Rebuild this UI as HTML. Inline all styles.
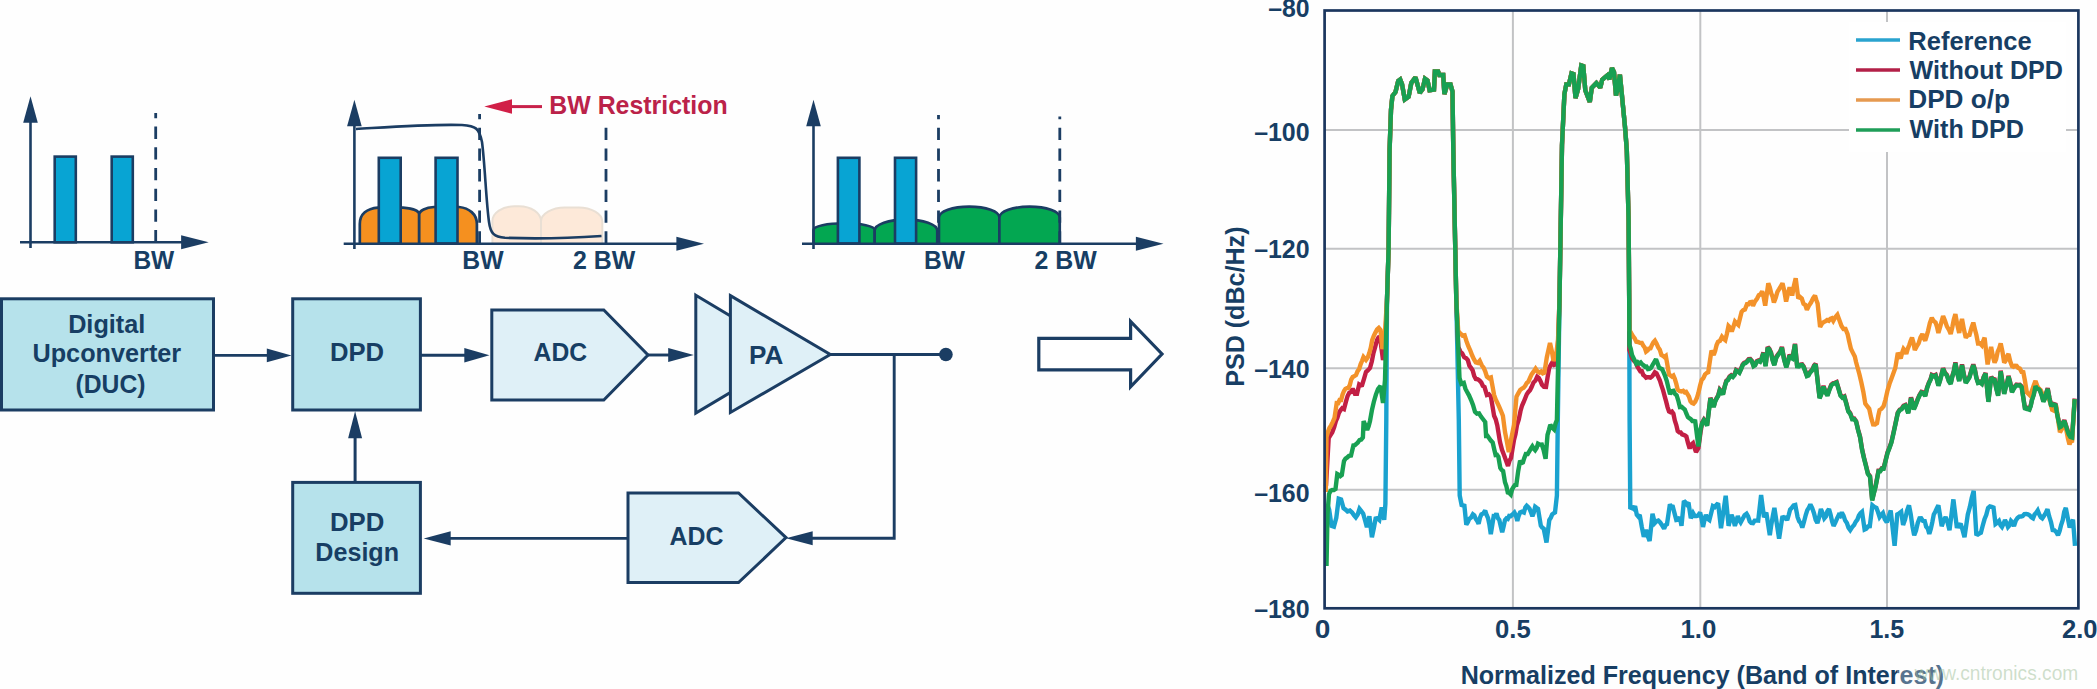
<!DOCTYPE html>
<html><head><meta charset="utf-8"><title>DPD</title>
<style>html,body{margin:0;padding:0;background:#fefefe;}svg{display:block;}</style></head>
<body><svg width="2097" height="689" viewBox="0 0 2097 689">
<rect width="2097" height="689" fill="#fefefe"/>
<rect x="54.699999999999996" y="156.60000000000002" width="21.099999999999994" height="85.7" fill="#08a4d3" stroke="#1b3d63" stroke-width="2.6"/>
<rect x="111.7" y="156.60000000000002" width="21.099999999999987" height="85.7" fill="#08a4d3" stroke="#1b3d63" stroke-width="2.6"/>
<line x1="155.7" y1="242.4" x2="155.7" y2="113" stroke="#1b3d63" stroke-width="2.8" stroke-dasharray="12.3 8.4"/>
<line x1="30.5" y1="248" x2="30.5" y2="116.2" stroke="#1b3d63" stroke-width="2.6"/>
<polygon points="23.2,122.7 37.8,122.7 30.5,96.2" fill="#1b3d63"/>
<line x1="20" y1="242.3" x2="188.7" y2="242.3" stroke="#1b3d63" stroke-width="2.6"/>
<polygon points="181.1,235.3 181.1,249.3 208.7,242.3" fill="#1b3d63"/>
<text x="133.38" y="268.9" textLength="40.84" lengthAdjust="spacingAndGlyphs" style="font-family:'Liberation Sans',sans-serif;font-weight:bold;font-size:25.3px" fill="#173e64" >BW</text>
<path d="M492.4,243 V221.3 A22,15 0 0 1 514.4,206.3 H519 A22,15 0 0 1 541,221.3 V243" fill="#fde9d9" stroke="#e9dfd4" stroke-width="2"/>
<path d="M541,243 V221.6 A24,14 0 0 1 565,207.6 H578.3 A24,14 0 0 1 602.3,221.6 V243" fill="#fde9d9" stroke="#e9dfd4" stroke-width="2"/>
<path d="M359.8,243.5 V224 C359.8,214 367,208.5 378,207.6 L403,207.6 C411,208.2 419.2,210.5 419.2,214.6 V243.5" fill="#f5901f" stroke="#1b3d63" stroke-width="2.7"/>
<path d="M419.2,243.5 V214.6 C419.2,210.5 426,207.5 434,207 L459,207 C469,208 476.9,214 476.9,224 V243.5" fill="#f5901f" stroke="#1b3d63" stroke-width="2.7"/>
<rect x="378.8" y="157.8" width="21.9" height="85.7" fill="#08a4d3" stroke="#1b3d63" stroke-width="2.6"/>
<rect x="435.6" y="157.8" width="21.9" height="85.7" fill="#08a4d3" stroke="#1b3d63" stroke-width="2.6"/>
<line x1="479.6" y1="243.5" x2="479.6" y2="114" stroke="#1b3d63" stroke-width="2.8" stroke-dasharray="12.3 8.4"/>
<line x1="606" y1="243.5" x2="606" y2="125" stroke="#1b3d63" stroke-width="2.8" stroke-dasharray="12.3 8.4"/>
<path d="M356,129 C390,127 430,124 462,125 C476,126 479,128 482,142 C485,165 486,200 489,222 C490.5,233.5 494,237 505,237.8 Q550,239.5 601.5,236" fill="none" stroke="#1b3d63" stroke-width="2.6"/>
<line x1="354.4" y1="249" x2="354.4" y2="119.8" stroke="#1b3d63" stroke-width="2.6"/>
<polygon points="347.09999999999997,126.3 361.7,126.3 354.4,99.8" fill="#1b3d63"/>
<line x1="343.7" y1="243.7" x2="684" y2="243.7" stroke="#1b3d63" stroke-width="2.6"/>
<polygon points="676.4,236.7 676.4,250.7 704,243.7" fill="#1b3d63"/>
<text x="462.27" y="268.9" textLength="41.26" lengthAdjust="spacingAndGlyphs" style="font-family:'Liberation Sans',sans-serif;font-weight:bold;font-size:25.3px" fill="#173e64" >BW</text>
<text x="572.95" y="268.9" textLength="62.17" lengthAdjust="spacingAndGlyphs" style="font-family:'Liberation Sans',sans-serif;font-weight:bold;font-size:25.3px" fill="#173e64" >2 BW</text>
<line x1="510" y1="106.6" x2="542" y2="106.6" stroke="#c8214a" stroke-width="3"/>
<polygon points="512,99.2 512,113.8 484.3,106.6" fill="#d11f47"/>
<text x="549.26" y="113.8" textLength="178.39" lengthAdjust="spacingAndGlyphs" style="font-family:'Liberation Sans',sans-serif;font-weight:bold;font-size:24.9px" fill="#bb2249" >BW Restriction</text>
<path d="M813.5,243.5 L813.5,230 A30.600000000000023,6.699999999999989 0 0 1 874.7,230 L874.7,243.5" fill="#03a751" stroke="#1b3d63" stroke-width="2.6"/>
<path d="M874.7,243.5 L874.7,230.6 A31.25,11.0 0 0 1 937.2,230.6 L937.2,243.5" fill="#03a751" stroke="#1b3d63" stroke-width="2.6"/>
<path d="M939,243.5 L939,217.5 A30.19999999999999,10.900000000000006 0 0 1 999.4,217.5 L999.4,243.5" fill="#03a751" stroke="#1b3d63" stroke-width="2.6"/>
<path d="M999.4,243.5 L999.4,217.5 A30.19999999999999,10.900000000000006 0 0 1 1059.8,217.5 L1059.8,243.5" fill="#03a751" stroke="#1b3d63" stroke-width="2.6"/>
<rect x="837.9" y="157.8" width="21.50000000000002" height="85.7" fill="#08a4d3" stroke="#1b3d63" stroke-width="2.6"/>
<rect x="895.0" y="157.8" width="21.09999999999993" height="85.7" fill="#08a4d3" stroke="#1b3d63" stroke-width="2.6"/>
<line x1="938.5" y1="243.5" x2="938.5" y2="115" stroke="#1b3d63" stroke-width="2.8" stroke-dasharray="12.3 8.4"/>
<line x1="1059.8" y1="243.5" x2="1059.8" y2="116.6" stroke="#1b3d63" stroke-width="2.8" stroke-dasharray="12.3 8.4"/>
<line x1="813.5" y1="249" x2="813.5" y2="119.8" stroke="#1b3d63" stroke-width="2.6"/>
<polygon points="806.2,126.3 820.8,126.3 813.5,99.8" fill="#1b3d63"/>
<line x1="802" y1="243.7" x2="1143.5" y2="243.7" stroke="#1b3d63" stroke-width="2.6"/>
<polygon points="1135.9,236.7 1135.9,250.7 1163.5,243.7" fill="#1b3d63"/>
<text x="924.08" y="268.9" textLength="40.95" lengthAdjust="spacingAndGlyphs" style="font-family:'Liberation Sans',sans-serif;font-weight:bold;font-size:25.3px" fill="#173e64" >BW</text>
<text x="1034.45" y="268.9" textLength="62.27" lengthAdjust="spacingAndGlyphs" style="font-family:'Liberation Sans',sans-serif;font-weight:bold;font-size:25.3px" fill="#173e64" >2 BW</text>
<rect x="1.5" y="298.8" width="212" height="111.19999999999999" fill="#b6e2eb" stroke="#1b3d63" stroke-width="3"/>
<text x="68.13" y="332.6" textLength="77.23" lengthAdjust="spacingAndGlyphs" style="font-family:'Liberation Sans',sans-serif;font-weight:bold;font-size:25.3px" fill="#173e64" >Digital</text>
<text x="32.49" y="362.2" textLength="148.66" lengthAdjust="spacingAndGlyphs" style="font-family:'Liberation Sans',sans-serif;font-weight:bold;font-size:25.3px" fill="#173e64" >Upconverter</text>
<text x="75.49" y="392.5" textLength="70.01" lengthAdjust="spacingAndGlyphs" style="font-family:'Liberation Sans',sans-serif;font-weight:bold;font-size:25.3px" fill="#173e64" >(DUC)</text>
<rect x="292.7" y="298.8" width="127.69999999999999" height="111.19999999999999" fill="#b6e2eb" stroke="#1b3d63" stroke-width="3"/>
<text x="330.01" y="360.7" textLength="54.15" lengthAdjust="spacingAndGlyphs" style="font-family:'Liberation Sans',sans-serif;font-weight:bold;font-size:25.3px" fill="#173e64" >DPD</text>
<rect x="292.7" y="482.4" width="127.69999999999999" height="110.89999999999998" fill="#b6e2eb" stroke="#1b3d63" stroke-width="3"/>
<text x="330.00" y="530.5" textLength="54.36" lengthAdjust="spacingAndGlyphs" style="font-family:'Liberation Sans',sans-serif;font-weight:bold;font-size:25.3px" fill="#173e64" >DPD</text>
<text x="315.34" y="560.7" textLength="83.71" lengthAdjust="spacingAndGlyphs" style="font-family:'Liberation Sans',sans-serif;font-weight:bold;font-size:25.3px" fill="#173e64" >Design</text>
<line x1="214" y1="355.4" x2="271.5" y2="355.4" stroke="#1b3d63" stroke-width="2.9"/>
<polygon points="266.8,348.5 266.8,362.29999999999995 291.5,355.4" fill="#1b3d63"/>
<line x1="421" y1="355.3" x2="469.5" y2="355.3" stroke="#1b3d63" stroke-width="2.9"/>
<polygon points="464.3,348.1 464.3,362.5 489.5,355.3" fill="#1b3d63"/>
<line x1="355.1" y1="481" x2="355.1" y2="431.3" stroke="#1b3d63" stroke-width="3"/>
<polygon points="348.1,438.3 362.1,438.3 355.1,411.3" fill="#1b3d63"/>
<polygon points="491.8,310 603.8,310 648,355 603.8,400 491.8,400" fill="#dff0f7" stroke="#1b3d63" stroke-width="3" stroke-linejoin="miter"/>
<text x="533.61" y="360.5" textLength="53.47" lengthAdjust="spacingAndGlyphs" style="font-family:'Liberation Sans',sans-serif;font-weight:bold;font-size:25.3px" fill="#173e64" >ADC</text>
<line x1="648" y1="355" x2="673.8" y2="355" stroke="#1b3d63" stroke-width="2.9"/>
<polygon points="668.1999999999999,348.1 668.1999999999999,361.9 693.8,355" fill="#1b3d63"/>
<polygon points="695.8,295.2 794.6,354.3 695.8,413" fill="#dff0f7" stroke="#1b3d63" stroke-width="3"/>
<polygon points="730.4,295.6 830.3,354.5 730.4,412.5" fill="#dff0f7" stroke="#1b3d63" stroke-width="3"/>
<text x="748.98" y="363.8" textLength="34.30" lengthAdjust="spacingAndGlyphs" style="font-family:'Liberation Sans',sans-serif;font-weight:bold;font-size:25.3px" fill="#173e64" >PA</text>
<polyline points="830,354.5 894.2,354.5 894.2,538.2 806,538.2" fill="none" stroke="#1b3d63" stroke-width="2.9"/>
<polygon points="812.7,531.2 812.7,545.2 786,538.2" fill="#1b3d63"/>
<circle cx="945.9" cy="354.5" r="6.8" fill="#1b3d63"/>
<line x1="894" y1="354.5" x2="944" y2="354.5" stroke="#1b3d63" stroke-width="2.9"/>
<polygon points="628,493 738.5,493 786,537.6 738.5,582.6 628,582.6" fill="#dff0f7" stroke="#1b3d63" stroke-width="3"/>
<text x="669.50" y="544.7" textLength="53.88" lengthAdjust="spacingAndGlyphs" style="font-family:'Liberation Sans',sans-serif;font-weight:bold;font-size:25.3px" fill="#173e64" >ADC</text>
<line x1="628" y1="538.4" x2="443.7" y2="538.4" stroke="#1b3d63" stroke-width="2.9"/>
<polygon points="450.7,531.3 450.7,545.5 423.7,538.4" fill="#1b3d63"/>
<path d="M1038.8,338.4 H1130.6 V321.4 L1162,354 L1130.6,386.8 V369.8 H1038.8 Z" fill="#fff" stroke="#1b3d63" stroke-width="3.2" stroke-linejoin="miter"/>
<line x1="1324.6" y1="130.0" x2="2078.4" y2="130.0" stroke="#c2c3c5" stroke-width="2"/>
<line x1="1324.6" y1="248.8" x2="2078.4" y2="248.8" stroke="#c2c3c5" stroke-width="2"/>
<line x1="1324.6" y1="368.2" x2="2078.4" y2="368.2" stroke="#c2c3c5" stroke-width="2"/>
<line x1="1324.6" y1="489.7" x2="2078.4" y2="489.7" stroke="#c2c3c5" stroke-width="2"/>
<line x1="1512.9" y1="10.5" x2="1512.9" y2="608.3" stroke="#c2c3c5" stroke-width="2"/>
<line x1="1700.3" y1="10.5" x2="1700.3" y2="608.3" stroke="#c2c3c5" stroke-width="2"/>
<line x1="1887.0" y1="10.5" x2="1887.0" y2="608.3" stroke="#c2c3c5" stroke-width="2"/>
<rect x="1849" y="22" width="217" height="130" fill="#fff"/>
<polyline points="1327.5,505.0 1329.2,509.8 1331.5,525.8 1333.9,526.6 1336.3,517.8 1338.7,498.7 1341.1,499.5 1343.5,508.2 1345.5,509.6 1347.5,511.4 1349.9,510.6 1352.1,512.5 1353.9,515.1 1355.8,517.4 1357.7,514.5 1359.5,508.8 1361.3,511.1 1363.2,513.7 1365.1,520.5 1366.9,527.3 1369.4,516.2 1371.9,537.2 1373.8,528.2 1375.6,518.6 1377.4,518.2 1379.3,519.9 1381.7,507.5 1384.2,519.9 1385.4,503.8 1386.3,420.0 1387.0,300.0 1388.6,249.0 1389.6,150.0 1391.0,110.0 1392.4,96.0 1395.5,92.0 1398.2,81.0 1400.2,79.5 1402.0,84.0 1404.8,99.5 1408.6,96.8 1411.3,83.0 1415.5,77.3 1419.8,92.9 1422.5,89.4 1425.0,78.7 1427.5,80.5 1429.6,90.3 1434.0,89.6 1434.9,71.5 1438.1,71.5 1439.4,75.0 1443.2,75.0 1444.4,94.0 1447.3,84.4 1450.5,84.4 1452.5,91.6 1453.3,150.0 1456.3,300.0 1458.8,420.0 1459.7,495.5 1461.6,505.0 1463.0,505.4 1464.4,505.8 1466.3,524.7 1467.8,522.3 1469.2,519.0 1471.1,517.6 1472.9,514.3 1474.3,515.4 1475.8,519.0 1477.2,520.8 1478.6,523.8 1480.0,517.7 1481.4,514.3 1483.3,513.4 1485.2,510.6 1486.6,514.9 1488.0,518.0 1489.4,524.6 1490.8,534.2 1493.7,516.2 1495.1,516.3 1496.5,513.4 1497.9,518.2 1499.3,520.0 1500.8,526.6 1502.2,532.3 1503.6,526.5 1505.0,520.0 1506.4,518.4 1507.8,519.0 1509.2,516.0 1510.7,516.2 1512.6,514.4 1514.4,512.5 1515.8,515.3 1517.3,521.0 1518.7,515.8 1520.1,512.5 1522.0,511.7 1523.9,512.5 1525.3,507.6 1526.7,505.8 1528.1,507.1 1529.5,508.7 1531.0,512.3 1532.4,516.2 1533.8,512.6 1535.2,506.8 1536.6,507.8 1538.0,508.7 1540.8,525.7 1542.2,527.5 1543.7,528.5 1545.1,535.5 1546.5,542.6 1549.3,520.0 1550.8,517.7 1552.2,514.3 1553.6,513.3 1555.0,512.5 1556.9,495.5 1557.8,420.0 1559.5,300.0 1562.0,145.0 1564.4,94.2 1566.3,84.4 1568.9,84.4 1571.5,73.3 1573.5,74.0 1575.5,98.1 1578.1,89.0 1581.3,65.4 1583.3,66.1 1585.3,90.3 1589.8,102.0 1591.8,87.7 1596.4,83.1 1600.3,87.7 1602.2,79.8 1607.5,75.2 1609.4,79.2 1612.0,68.1 1614.0,72.0 1616.0,95.5 1617.9,87.7 1619.9,74.6 1621.2,87.7 1623.1,107.2 1625.1,128.0 1626.8,150.0 1628.6,220.0 1629.2,300.0 1629.6,420.0 1630.3,509.0 1631.9,507.3 1633.5,508.7 1635.1,506.1 1636.8,514.8 1638.2,516.4 1639.7,514.8 1641.8,526.9 1643.8,536.9 1646.1,529.9 1647.8,536.1 1649.6,541.0 1652.5,513.7 1654.8,523.0 1656.5,521.2 1658.3,520.6 1660.2,522.5 1662.2,525.4 1664.1,528.8 1665.5,525.1 1667.0,524.1 1669.9,504.4 1671.3,506.4 1672.8,506.7 1674.5,513.1 1676.3,520.1 1678.0,519.8 1679.8,517.2 1681.5,525.9 1683.9,500.9 1685.3,502.3 1686.8,504.4 1688.5,502.6 1690.8,518.3 1693.1,513.1 1694.8,516.0 1696.6,516.0 1698.3,515.4 1700.1,512.5 1701.5,518.2 1703.0,527.0 1704.5,520.0 1705.9,514.8 1707.7,518.8 1709.4,520.1 1711.2,513.0 1712.9,506.1 1714.7,507.1 1716.4,505.0 1718.1,503.2 1721.0,528.2 1725.7,495.7 1728.6,525.9 1730.0,520.0 1731.5,514.8 1733.2,519.0 1734.9,525.9 1736.3,521.4 1737.8,516.0 1739.2,520.1 1740.7,522.4 1742.7,518.8 1744.6,515.3 1746.6,513.7 1748.1,516.3 1749.7,521.4 1751.2,523.0 1753.0,523.2 1754.7,520.6 1756.5,520.4 1758.2,520.6 1761.1,495.1 1764.0,517.2 1766.3,512.5 1769.8,535.1 1771.3,524.8 1772.9,515.6 1774.4,507.9 1779.1,538.6 1782.5,516.0 1784.1,518.3 1785.6,517.7 1787.2,520.1 1788.7,515.0 1790.1,509.6 1791.8,507.9 1793.6,505.5 1795.3,505.0 1797.6,517.2 1799.2,521.4 1800.7,523.0 1802.3,527.6 1804.0,521.7 1805.8,514.8 1807.3,510.1 1808.9,507.6 1810.4,504.4 1812.2,508.1 1813.9,513.0 1815.7,519.9 1817.4,523.0 1819.2,517.0 1820.9,509.0 1822.6,513.0 1824.3,518.3 1825.9,516.4 1827.4,511.2 1829.0,509.0 1830.5,514.3 1832.1,521.4 1833.6,525.9 1835.3,522.6 1837.1,518.3 1838.7,515.1 1840.2,516.0 1841.8,512.5 1843.5,515.6 1845.2,520.6 1846.9,523.0 1848.5,527.8 1850.2,530.1 1852.2,527.0 1854.1,524.9 1855.8,521.6 1857.4,519.6 1858.9,515.6 1860.5,513.1 1862.0,511.8 1864.6,529.4 1866.3,528.6 1868.1,526.4 1869.8,526.2 1872.4,505.3 1874.4,506.9 1876.4,507.9 1878.0,512.0 1879.6,517.0 1881.2,514.9 1882.9,513.1 1884.8,519.2 1886.8,522.3 1888.8,516.3 1890.7,510.5 1894.6,545.8 1897.3,514.4 1899.2,513.3 1901.2,511.8 1903.1,524.9 1905.1,519.5 1907.0,510.8 1909.0,505.3 1910.7,514.2 1912.5,526.6 1914.2,535.3 1916.0,530.7 1917.7,523.2 1919.5,518.3 1921.2,518.2 1923.0,520.9 1924.7,521.0 1926.2,526.7 1927.8,528.7 1929.3,534.0 1930.8,528.9 1932.3,522.2 1933.8,514.4 1935.3,511.7 1936.9,508.1 1938.4,505.3 1941.7,526.2 1943.7,520.3 1945.6,517.0 1947.5,522.1 1949.5,530.1 1953.4,499.4 1956.7,526.2 1958.7,526.4 1960.6,523.6 1962.5,529.6 1964.5,537.3 1967.8,514.4 1969.8,507.2 1971.7,498.0 1973.7,490.9 1976.3,534.0 1977.8,534.6 1979.4,533.4 1980.9,532.7 1982.7,525.8 1984.5,519.3 1986.3,514.8 1988.1,507.9 1989.9,506.4 1991.7,506.8 1993.5,507.5 1995.5,524.0 1997.2,522.7 1999.0,521.0 2000.5,525.1 2002.0,527.0 2003.5,523.9 2005.0,520.0 2006.5,522.8 2008.0,527.0 2009.5,525.3 2011.0,521.0 2012.5,522.6 2014.0,526.0 2015.8,520.5 2017.5,518.0 2019.2,516.6 2021.0,516.5 2022.7,516.0 2024.4,514.1 2026.2,513.9 2027.9,514.4 2029.6,515.3 2031.4,517.2 2033.1,518.3 2034.6,514.5 2036.2,512.7 2037.7,510.5 2039.2,514.4 2040.8,517.2 2042.3,518.3 2044.0,515.8 2045.8,512.8 2047.5,509.2 2049.2,516.4 2051.0,522.0 2052.7,530.1 2054.5,530.3 2056.2,532.0 2058.0,535.3 2059.6,531.1 2061.1,525.0 2062.7,520.3 2064.2,511.8 2065.8,507.9 2067.8,518.1 2069.7,527.5 2071.3,523.5 2073.0,519.6 2075.0,545.8" fill="none" stroke="#1aa2cf" stroke-width="4.4" stroke-linejoin="miter" stroke-miterlimit="2.2" stroke-linecap="butt"/>
<polyline points="1326.0,486.0 1328.7,438.0 1330.5,435.1 1332.3,432.3 1334.2,427.0 1336.0,420.7 1337.4,417.8 1338.9,412.8 1340.3,410.5 1342.2,408.2 1344.0,409.1 1345.8,402.1 1347.6,396.0 1349.3,392.8 1351.0,392.1 1352.7,388.7 1354.9,393.8 1357.0,393.8 1359.2,384.4 1360.7,385.3 1362.1,385.0 1364.0,378.8 1366.0,372.0 1368.0,370.2 1370.0,368.0 1371.8,361.5 1373.5,352.9 1375.2,346.8 1377.0,340.0 1378.5,337.4 1380.0,337.0 1383.0,360.0 1385.0,350.0 1387.0,300.0 1388.6,249.0 1389.6,150.0 1391.0,110.0 1392.4,96.0 1395.5,92.0 1398.2,81.0 1400.2,79.5 1402.0,84.0 1404.8,99.5 1408.6,96.8 1411.3,83.0 1415.5,77.3 1419.8,92.9 1422.5,89.4 1425.0,78.7 1427.5,80.5 1429.6,90.3 1434.0,89.6 1434.9,71.5 1438.1,71.5 1439.4,75.0 1443.2,75.0 1444.4,94.0 1447.3,84.4 1450.5,84.4 1452.5,91.6 1453.3,150.0 1456.3,300.0 1458.3,347.0 1460.5,352.0 1462.2,353.5 1464.2,357.2 1466.2,358.3 1467.8,360.1 1469.4,365.7 1471.0,367.9 1472.6,370.2 1474.2,375.9 1475.8,379.0 1477.8,379.3 1479.7,380.7 1481.3,382.5 1482.9,386.0 1484.5,387.0 1486.9,395.0 1488.9,394.3 1490.9,396.6 1494.1,415.8 1495.7,419.2 1497.3,425.4 1500.0,442.0 1502.0,449.8 1504.0,455.0 1506.0,460.5 1508.0,466.0 1509.5,460.7 1511.0,458.0 1514.0,440.0 1515.5,434.1 1517.0,425.0 1518.8,419.4 1520.5,411.0 1522.1,405.5 1523.6,402.2 1525.2,398.2 1526.8,394.2 1528.4,392.0 1530.0,390.2 1531.6,387.0 1533.5,382.5 1535.3,380.8 1537.2,376.7 1538.8,377.9 1540.4,381.0 1542.0,384.7 1544.0,386.9 1546.0,387.0 1547.6,377.1 1549.2,367.9 1550.8,364.8 1552.4,362.3 1553.7,364.5 1555.0,366.0 1558.0,345.0 1559.5,300.0 1562.0,145.0 1564.4,94.2 1566.3,84.4 1568.9,84.4 1571.5,73.3 1573.5,74.0 1575.5,98.1 1578.1,89.0 1581.3,65.4 1583.3,66.1 1585.3,90.3 1589.8,102.0 1591.8,87.7 1596.4,83.1 1600.3,87.7 1602.2,79.8 1607.5,75.2 1609.4,79.2 1612.0,68.1 1614.0,72.0 1616.0,95.5 1617.9,87.7 1619.9,74.6 1621.2,87.7 1623.1,107.2 1625.1,128.0 1626.8,150.0 1628.6,220.0 1629.2,300.0 1629.4,350.0 1630.7,353.9 1632.0,358.0 1633.8,360.6 1635.6,362.4 1637.4,366.8 1638.9,369.0 1640.3,371.2 1641.8,371.2 1643.2,374.9 1644.7,376.1 1646.1,377.7 1647.6,377.2 1649.0,377.3 1650.5,377.7 1652.0,376.5 1653.4,374.7 1654.9,372.3 1656.5,373.2 1658.1,376.6 1659.8,380.2 1661.4,385.4 1663.1,390.4 1664.7,396.3 1666.1,401.4 1667.6,407.4 1669.0,411.5 1670.5,412.2 1671.9,411.5 1673.4,413.7 1674.8,420.5 1676.3,425.1 1677.7,431.1 1679.2,432.3 1680.6,432.4 1682.1,434.4 1683.5,434.9 1685.0,435.5 1686.4,436.6 1688.1,443.4 1689.7,448.5 1691.3,444.5 1693.0,443.1 1694.5,447.7 1696.0,452.0 1698.4,448.0 1700.6,432.0 1702.2,422.4 1703.9,419.5 1705.5,421.7 1707.1,425.0 1710.4,397.7 1712.1,402.0 1713.7,406.4 1715.1,401.1 1716.5,398.2 1718.2,395.3 1719.8,389.5 1721.4,391.3 1723.0,393.9 1724.7,386.2 1726.3,380.8 1727.9,379.6 1729.6,376.4 1731.2,375.2 1732.9,376.4 1734.5,374.5 1736.1,369.9 1737.8,370.9 1739.4,372.1 1741.1,368.5 1742.7,364.5 1744.1,362.9 1745.6,362.3 1747.0,361.2 1748.7,359.1 1750.3,359.0 1751.9,360.8 1753.6,365.6 1755.2,364.6 1756.8,361.2 1758.4,360.4 1760.1,361.2 1761.8,357.7 1763.4,352.5 1765.6,365.6 1767.7,347.0 1769.3,348.8 1771.0,352.5 1772.7,360.0 1774.3,364.5 1776.4,356.8 1778.6,353.6 1780.2,351.6 1781.9,347.0 1784.1,359.0 1786.3,366.6 1787.9,361.5 1789.5,354.7 1791.0,357.1 1792.4,357.9 1793.7,351.1 1795.0,343.8 1797.1,365.6 1798.8,365.8 1800.4,364.5 1802.1,364.3 1803.7,366.6 1805.3,370.9 1806.9,375.4 1808.5,374.8 1810.0,372.1 1812.5,369.3 1814.1,365.5 1815.7,363.7 1819.6,397.6 1821.5,393.1 1823.5,385.9 1825.5,391.7 1827.4,395.0 1829.3,389.5 1831.3,384.6 1833.1,383.3 1834.8,382.7 1836.6,382.0 1838.5,388.1 1840.5,395.0 1842.5,397.2 1844.4,396.3 1846.3,403.1 1848.3,410.7 1850.2,413.1 1852.2,418.5 1854.2,418.5 1856.1,421.1 1858.1,429.6 1860.1,436.8 1862.0,448.8 1864.0,457.7 1866.0,465.5 1867.9,473.3 1870.0,476.0 1872.2,499.8 1873.8,493.1 1875.5,486.4 1877.0,478.7 1878.5,470.7 1880.2,470.6 1881.9,468.1 1883.6,468.1 1885.5,460.6 1887.5,452.5 1889.5,447.4 1891.4,442.0 1893.3,433.5 1895.3,424.3 1897.8,412.5 1899.7,409.6 1901.6,408.7 1903.5,405.8 1905.4,405.0 1906.8,408.3 1908.2,412.5 1909.6,406.3 1911.0,397.4 1912.5,402.6 1913.9,408.7 1915.8,404.3 1917.6,399.3 1919.5,394.9 1921.4,391.8 1923.3,392.4 1925.2,395.5 1927.1,387.5 1929.0,382.3 1930.4,379.6 1931.8,374.8 1933.7,375.7 1935.6,374.8 1937.0,379.5 1938.4,385.1 1940.0,380.1 1941.5,374.4 1943.1,368.2 1945.0,372.8 1946.9,374.8 1948.8,380.5 1950.7,383.3 1952.3,376.1 1953.8,371.0 1955.4,362.5 1957.3,372.9 1959.2,380.4 1960.6,372.7 1962.0,364.4 1963.9,374.6 1965.8,382.3 1967.7,379.5 1969.5,376.7 1971.4,370.2 1973.3,364.4 1974.9,369.6 1976.4,377.5 1978.0,382.3 1979.9,381.7 1981.8,383.3 1983.7,376.7 1985.6,372.9 1988.4,401.2 1991.2,376.7 1992.9,379.0 1994.6,379.4 1996.3,388.1 1998.1,395.0 2000.7,370.7 2004.2,393.3 2005.6,387.4 2007.1,382.8 2008.5,375.9 2010.2,382.3 2012.0,391.6 2013.5,388.5 2014.9,386.3 2016.4,384.6 2018.1,384.9 2019.9,384.7 2021.6,386.3 2025.1,409.0 2026.5,407.6 2028.0,408.5 2029.4,409.0 2030.7,405.5 2032.0,399.4 2033.8,394.0 2035.5,385.5 2037.0,387.7 2038.4,388.3 2039.9,389.8 2041.7,394.7 2043.4,401.1 2044.8,398.2 2046.3,392.5 2047.7,388.1 2049.4,397.5 2051.2,405.5 2052.7,403.7 2054.1,404.0 2055.6,404.6 2057.0,412.9 2058.5,420.1 2059.9,426.4 2061.4,425.6 2062.8,422.7 2064.3,420.3 2065.7,424.4 2067.2,429.3 2068.6,433.4 2070.3,436.3 2072.1,436.9 2074.7,398.5" fill="none" stroke="#c21f44" stroke-width="4.4" stroke-linejoin="miter" stroke-miterlimit="2.2" stroke-linecap="butt"/>
<polyline points="1325.8,492.0 1326.5,437.0 1328.0,431.7 1329.4,428.0 1331.1,425.3 1332.8,421.9 1334.5,418.0 1336.7,403.0 1338.2,403.1 1339.6,400.0 1341.1,400.0 1342.5,394.6 1344.0,391.0 1345.4,388.9 1346.9,388.1 1348.3,388.0 1349.8,385.1 1351.2,379.5 1352.7,377.0 1354.3,376.1 1356.0,375.0 1357.6,371.1 1359.2,369.0 1360.6,364.3 1362.1,360.8 1363.5,357.0 1366.0,360.0 1367.7,357.6 1369.3,353.0 1370.8,347.7 1372.2,340.1 1373.7,336.0 1375.4,332.6 1377.1,329.5 1378.8,328.0 1380.5,330.0 1382.4,349.0 1384.5,340.0 1387.0,300.0 1388.6,249.0 1389.6,150.0 1391.0,110.0 1392.4,96.0 1395.5,92.0 1398.2,81.0 1400.2,79.5 1402.0,84.0 1404.8,99.5 1408.6,96.8 1411.3,83.0 1415.5,77.3 1419.8,92.9 1422.5,89.4 1425.0,78.7 1427.5,80.5 1429.6,90.3 1434.0,89.6 1434.9,71.5 1438.1,71.5 1439.4,75.0 1443.2,75.0 1444.4,94.0 1447.3,84.4 1450.5,84.4 1452.5,91.6 1453.3,150.0 1456.3,300.0 1458.2,331.0 1460.5,333.6 1462.5,335.6 1464.6,335.2 1466.5,341.2 1468.3,346.2 1470.2,350.3 1472.1,355.3 1473.9,359.1 1475.8,362.3 1477.8,362.9 1479.7,360.7 1481.7,365.2 1483.7,367.9 1485.3,371.5 1486.9,376.7 1488.9,378.2 1490.9,377.5 1492.5,386.2 1494.1,395.0 1495.7,399.5 1497.3,402.7 1498.9,406.2 1500.9,410.8 1502.9,415.8 1505.0,432.0 1506.9,441.6 1508.8,452.0 1511.0,440.0 1512.5,432.3 1514.0,425.0 1516.5,396.6 1518.3,393.3 1520.2,390.0 1522.0,388.6 1523.6,387.8 1525.2,385.8 1526.8,383.0 1528.4,381.7 1530.0,377.8 1531.6,374.3 1533.6,371.7 1535.6,368.7 1537.6,371.5 1539.6,372.7 1541.2,371.5 1542.8,373.3 1544.4,372.7 1546.8,357.5 1548.4,350.1 1550.0,343.0 1551.8,351.0 1553.5,361.0 1554.9,356.5 1556.3,354.0 1558.0,340.0 1559.5,300.0 1562.0,145.0 1564.4,94.2 1566.3,84.4 1568.9,84.4 1571.5,73.3 1573.5,74.0 1575.5,98.1 1578.1,89.0 1581.3,65.4 1583.3,66.1 1585.3,90.3 1589.8,102.0 1591.8,87.7 1596.4,83.1 1600.3,87.7 1602.2,79.8 1607.5,75.2 1609.4,79.2 1612.0,68.1 1614.0,72.0 1616.0,95.5 1617.9,87.7 1619.9,74.6 1621.2,87.7 1623.1,107.2 1625.1,128.0 1626.8,150.0 1628.6,220.0 1629.2,300.0 1629.4,330.0 1631.2,333.2 1633.1,336.3 1634.7,338.3 1636.3,341.8 1638.1,342.0 1640.0,342.9 1641.8,342.9 1643.2,345.5 1644.7,347.5 1646.1,351.6 1647.6,350.5 1649.0,348.6 1650.5,348.3 1652.0,344.9 1653.4,342.3 1654.9,340.7 1656.5,343.5 1658.1,347.2 1659.8,349.7 1661.4,354.9 1662.9,355.7 1664.3,357.0 1665.8,355.9 1667.4,364.8 1669.0,374.5 1670.5,375.6 1671.9,376.6 1673.4,375.6 1674.8,378.8 1676.3,383.9 1677.7,389.7 1679.5,391.0 1681.4,391.5 1683.2,390.8 1684.6,392.3 1686.1,391.9 1687.5,394.1 1689.0,396.7 1690.4,401.1 1691.9,402.8 1693.6,403.5 1695.2,401.7 1696.8,398.3 1698.4,393.0 1700.1,385.5 1701.7,379.9 1703.3,378.3 1705.0,374.5 1706.6,373.0 1708.2,372.3 1711.5,350.5 1713.7,354.9 1715.1,351.2 1716.6,345.0 1718.0,341.8 1720.0,340.8 1722.0,336.8 1723.7,338.8 1725.3,340.1 1726.9,333.8 1728.5,326.0 1730.2,327.8 1731.8,331.4 1733.4,326.9 1735.0,321.6 1736.7,323.5 1738.3,324.9 1739.9,318.6 1741.6,311.8 1743.2,310.2 1744.9,309.6 1747.0,304.2 1748.5,304.2 1749.9,302.2 1751.4,302.0 1753.0,305.7 1755.0,301.4 1757.1,298.5 1758.8,295.1 1760.5,294.4 1762.2,291.4 1763.7,297.3 1765.2,305.7 1768.3,283.3 1769.8,287.5 1771.3,293.5 1772.6,296.7 1773.9,302.6 1775.7,297.7 1777.4,291.9 1779.1,289.2 1780.8,286.3 1782.5,283.3 1784.3,291.0 1786.1,301.6 1787.8,294.3 1789.6,287.4 1790.9,290.9 1792.2,295.5 1794.0,285.5 1795.7,278.2 1798.3,298.5 1800.0,296.9 1801.8,298.5 1803.5,303.8 1805.2,304.8 1806.9,309.7 1809.0,305.5 1811.0,302.6 1813.0,298.3 1815.0,295.5 1816.3,299.9 1817.6,303.6 1820.1,327.0 1822.2,323.1 1824.2,321.9 1825.7,321.1 1827.2,320.0 1828.8,320.7 1830.3,318.9 1831.8,318.3 1833.3,320.9 1835.3,317.3 1837.4,314.8 1839.5,320.4 1841.5,326.0 1843.5,329.0 1845.5,329.0 1847.6,334.1 1849.2,341.5 1850.9,348.7 1852.8,352.6 1854.8,356.6 1856.1,362.3 1857.4,367.0 1859.4,374.2 1861.4,382.7 1863.3,391.7 1865.3,403.6 1867.2,406.2 1869.2,408.8 1871.2,417.9 1873.1,424.4 1875.0,424.5 1877.0,423.1 1878.3,415.8 1879.6,410.1 1881.6,408.7 1883.6,406.2 1885.5,399.5 1887.5,390.5 1889.5,383.8 1891.4,378.7 1893.3,373.6 1895.3,368.0 1897.8,352.8 1899.2,355.2 1900.7,358.5 1902.1,352.9 1903.5,349.0 1904.9,350.7 1906.3,353.8 1907.8,348.6 1909.2,345.3 1910.6,341.0 1912.0,337.7 1913.4,342.4 1914.8,350.0 1916.7,346.4 1918.6,343.4 1920.5,337.4 1922.4,334.0 1923.8,338.1 1925.2,340.6 1926.6,336.2 1928.0,331.1 1929.9,322.9 1931.8,317.9 1933.7,321.1 1935.6,322.6 1937.0,326.8 1938.4,333.0 1940.0,327.3 1941.5,321.8 1943.1,316.0 1945.0,320.7 1946.9,326.4 1948.8,329.5 1950.7,334.0 1952.3,327.2 1953.8,319.6 1955.4,314.2 1957.3,324.8 1959.2,333.0 1960.6,324.7 1962.0,318.9 1963.9,329.3 1965.8,337.7 1967.7,335.4 1969.5,334.9 1971.4,328.1 1973.3,322.6 1974.9,329.2 1976.4,335.0 1978.0,343.4 1979.9,343.2 1981.8,345.3 1983.2,341.1 1984.6,337.7 1987.6,364.4 1989.3,355.5 1991.1,347.0 1992.8,356.0 1994.6,362.6 1996.1,359.4 1997.7,351.6 1999.2,348.4 2000.7,343.5 2002.5,351.9 2004.2,362.6 2005.6,360.7 2007.1,356.2 2008.5,353.9 2010.2,361.3 2012.0,366.1 2013.5,366.7 2015.0,365.8 2016.6,365.9 2018.1,367.9 2019.8,368.5 2021.6,371.9 2023.3,372.2 2025.0,381.1 2026.8,392.3 2028.5,393.9 2030.3,395.7 2032.0,390.4 2033.8,385.3 2035.5,380.9 2037.2,385.8 2039.0,388.8 2040.7,390.2 2042.5,394.1 2044.2,395.7 2046.0,394.5 2047.7,392.3 2049.2,399.5 2050.6,404.0 2052.1,409.7 2053.5,410.4 2055.0,408.3 2056.4,407.9 2059.9,432.3 2061.6,429.6 2063.4,426.9 2065.1,423.6 2066.6,431.7 2068.0,438.8 2069.5,444.5 2070.8,441.5 2072.1,441.0 2074.7,399.2" fill="none" stroke="#f3922a" stroke-width="4.4" stroke-linejoin="miter" stroke-miterlimit="2.2" stroke-linecap="butt"/>
<polyline points="1326.5,566.0 1327.5,514.0 1329.0,494.0 1330.7,490.7 1332.3,490.0 1333.9,490.1 1335.5,489.0 1337.3,474.0 1338.8,474.8 1340.3,476.1 1341.8,475.0 1344.0,461.0 1345.5,458.6 1347.0,457.7 1349.0,455.8 1351.0,455.5 1353.4,445.4 1354.9,445.2 1356.3,444.0 1357.8,442.5 1359.5,440.2 1361.2,439.7 1362.9,437.4 1363.6,421.0 1365.4,425.2 1367.2,430.0 1368.6,426.4 1370.0,421.0 1371.9,410.3 1373.8,402.0 1375.9,394.6 1378.0,389.0 1380.5,386.0 1383.0,403.0 1385.0,380.0 1387.0,300.0 1388.6,249.0 1389.6,150.0 1391.0,110.0 1392.4,96.0 1395.5,92.0 1398.2,81.0 1400.2,79.5 1402.0,84.0 1404.8,99.5 1408.6,96.8 1411.3,83.0 1415.5,77.3 1419.8,92.9 1422.5,89.4 1425.0,78.7 1427.5,80.5 1429.6,90.3 1434.0,89.6 1434.9,71.5 1438.1,71.5 1439.4,75.0 1443.2,75.0 1444.4,94.0 1447.3,84.4 1450.5,84.4 1452.5,91.6 1453.3,150.0 1456.3,300.0 1459.5,378.0 1461.4,383.9 1463.8,383.0 1465.4,388.7 1467.0,391.8 1469.0,395.3 1471.0,399.8 1473.0,405.0 1475.0,411.8 1477.0,413.6 1479.0,413.4 1481.0,416.6 1482.9,419.0 1485.2,422.0 1486.1,436.0 1487.5,435.9 1489.0,438.0 1490.8,440.5 1492.7,442.6 1494.2,449.3 1495.6,455.0 1497.0,454.8 1498.4,456.8 1500.3,468.0 1501.7,470.0 1503.1,471.0 1505.0,482.3 1506.4,486.2 1507.8,492.6 1509.2,493.0 1510.7,494.5 1512.1,489.4 1513.5,487.0 1514.9,485.1 1516.3,485.0 1518.2,471.0 1520.1,460.6 1521.5,463.1 1522.9,462.5 1524.3,457.9 1525.8,454.0 1527.7,454.1 1529.5,451.0 1531.0,448.5 1532.4,446.4 1533.8,448.6 1535.2,450.2 1536.6,448.1 1538.0,443.6 1539.9,444.6 1541.8,444.5 1543.7,450.4 1545.6,458.7 1547.5,435.0 1548.9,430.1 1550.3,424.7 1552.2,427.5 1554.1,429.4 1555.5,423.7 1556.9,420.0 1559.5,300.0 1562.0,145.0 1564.4,94.2 1566.3,84.4 1568.9,84.4 1571.5,73.3 1573.5,74.0 1575.5,98.1 1578.1,89.0 1581.3,65.4 1583.3,66.1 1585.3,90.3 1589.8,102.0 1591.8,87.7 1596.4,83.1 1600.3,87.7 1602.2,79.8 1607.5,75.2 1609.4,79.2 1612.0,68.1 1614.0,72.0 1616.0,95.5 1617.9,87.7 1619.9,74.6 1621.2,87.7 1623.1,107.2 1625.1,128.0 1626.8,150.0 1628.6,220.0 1629.2,300.0 1629.4,345.0 1630.7,348.7 1632.0,354.9 1636.3,363.6 1637.8,362.2 1639.2,363.5 1640.7,362.5 1642.2,364.4 1643.6,365.3 1645.1,366.8 1646.5,366.6 1648.0,369.2 1649.4,369.0 1651.1,367.8 1652.7,364.7 1654.3,362.0 1656.0,359.2 1657.6,363.6 1659.2,367.9 1660.7,368.5 1662.1,369.2 1663.6,372.3 1665.2,376.2 1666.8,381.0 1668.4,387.8 1670.1,394.1 1671.8,391.1 1673.4,390.8 1675.0,393.9 1676.6,395.2 1678.2,400.3 1679.9,407.1 1681.6,406.8 1683.2,408.2 1684.8,409.5 1686.4,413.7 1687.9,417.1 1689.3,418.1 1690.8,419.1 1692.3,421.0 1693.7,420.9 1695.2,421.3 1698.4,446.4 1700.6,428.9 1702.2,423.1 1703.9,420.2 1705.5,422.4 1707.1,425.7 1710.4,398.4 1712.1,402.7 1713.7,407.1 1715.1,401.8 1716.5,398.9 1718.2,396.0 1719.8,390.2 1721.4,392.0 1723.0,394.6 1724.7,386.9 1726.3,381.5 1727.9,380.3 1729.6,377.1 1731.2,375.9 1732.9,377.1 1734.5,375.2 1736.1,370.6 1737.8,371.6 1739.4,372.8 1741.1,369.2 1742.7,365.2 1744.1,363.6 1745.6,363.0 1747.0,361.9 1748.7,359.8 1750.3,359.7 1751.9,361.5 1753.6,366.3 1755.2,365.3 1756.8,361.9 1758.4,361.1 1760.1,361.9 1761.8,358.4 1763.4,353.2 1765.6,366.3 1767.7,347.7 1769.3,349.5 1771.0,353.2 1772.7,360.7 1774.3,365.2 1776.4,357.5 1778.6,354.3 1780.2,352.3 1781.9,347.7 1784.1,359.7 1786.3,367.3 1787.9,362.2 1789.5,355.4 1791.0,357.8 1792.4,358.6 1793.7,351.8 1795.0,344.5 1797.1,366.3 1798.8,366.5 1800.4,365.2 1802.1,365.0 1803.7,367.3 1805.3,371.6 1806.9,376.1 1808.5,375.5 1810.0,372.8 1812.5,370.0 1814.1,366.2 1815.7,364.4 1819.6,398.3 1821.5,393.8 1823.5,386.6 1825.5,392.4 1827.4,395.7 1829.3,390.2 1831.3,385.3 1833.1,384.0 1834.8,383.4 1836.6,382.7 1838.5,388.8 1840.5,395.7 1842.5,397.9 1844.4,397.0 1846.3,403.8 1848.3,411.4 1850.2,413.8 1852.2,419.2 1854.2,419.2 1856.1,421.8 1858.1,430.3 1860.1,437.5 1862.0,449.5 1864.0,458.4 1866.0,466.2 1867.9,474.0 1870.0,476.7 1872.2,500.5 1873.8,493.8 1875.5,487.1 1877.0,479.4 1878.5,471.4 1880.2,471.3 1881.9,468.8 1883.6,468.8 1885.5,461.3 1887.5,453.2 1889.5,448.1 1891.4,442.7 1893.3,434.2 1895.3,425.0 1897.8,413.2 1899.7,410.3 1901.6,409.4 1903.5,406.5 1905.4,405.7 1906.8,409.0 1908.2,413.2 1909.6,407.0 1911.0,398.1 1912.5,403.3 1913.9,409.4 1915.8,405.0 1917.6,400.0 1919.5,395.6 1921.4,392.5 1923.3,393.1 1925.2,396.2 1927.1,388.2 1929.0,383.0 1930.4,380.3 1931.8,375.5 1933.7,376.4 1935.6,375.5 1937.0,380.2 1938.4,385.8 1940.0,380.8 1941.5,375.1 1943.1,368.9 1945.0,373.5 1946.9,375.5 1948.8,381.2 1950.7,384.0 1952.3,376.8 1953.8,371.7 1955.4,363.2 1957.3,373.6 1959.2,381.1 1960.6,373.4 1962.0,365.1 1963.9,375.3 1965.8,383.0 1967.7,380.2 1969.5,377.4 1971.4,370.9 1973.3,365.1 1974.9,370.3 1976.4,378.2 1978.0,383.0 1979.9,382.4 1981.8,384.0 1983.7,377.4 1985.6,373.6 1988.4,401.9 1991.2,377.4 1992.9,379.7 1994.6,380.1 1996.3,388.8 1998.1,395.7 2000.7,371.4 2004.2,394.0 2005.6,388.1 2007.1,383.5 2008.5,376.6 2010.2,383.0 2012.0,392.3 2013.5,389.2 2014.9,387.0 2016.4,385.3 2018.1,385.6 2019.9,385.4 2021.6,387.0 2025.1,409.7 2026.5,408.3 2028.0,409.2 2029.4,409.7 2030.7,406.2 2032.0,400.1 2033.8,394.7 2035.5,386.2 2037.0,388.4 2038.4,389.0 2039.9,390.5 2041.7,395.4 2043.4,401.8 2044.8,398.9 2046.3,393.2 2047.7,388.8 2049.4,398.2 2051.2,406.2 2052.7,404.4 2054.1,404.7 2055.6,405.3 2057.0,413.6 2058.5,420.8 2059.9,427.1 2061.4,426.3 2062.8,423.4 2064.3,421.0 2065.7,425.1 2067.2,430.0 2068.6,434.1 2070.3,437.0 2072.1,437.6 2074.7,399.2" fill="none" stroke="#18a052" stroke-width="4.4" stroke-linejoin="miter" stroke-miterlimit="2.2" stroke-linecap="butt"/>
<rect x="1324.6" y="10.5" width="753.8000000000002" height="597.8" fill="none" stroke="#1b365e" stroke-width="2.7"/>
<line x1="1856" y1="40" x2="1900" y2="40" stroke="#2aa3cf" stroke-width="3.6"/>
<text x="1908.32" y="49.6" textLength="123.25" lengthAdjust="spacingAndGlyphs" style="font-family:'Liberation Sans',sans-serif;font-weight:bold;font-size:25.3px" fill="#173e64" >Reference</text>
<line x1="1856" y1="70" x2="1900" y2="70" stroke="#b32048" stroke-width="3.6"/>
<text x="1909.57" y="78.6" textLength="153.47" lengthAdjust="spacingAndGlyphs" style="font-family:'Liberation Sans',sans-serif;font-weight:bold;font-size:25.3px" fill="#173e64" >Without DPD</text>
<line x1="1856" y1="100" x2="1900" y2="100" stroke="#e69a50" stroke-width="3.6"/>
<text x="1908.27" y="107.8" textLength="101.69" lengthAdjust="spacingAndGlyphs" style="font-family:'Liberation Sans',sans-serif;font-weight:bold;font-size:25.3px" fill="#173e64" >DPD o/p</text>
<line x1="1856" y1="130" x2="1900" y2="130" stroke="#1f9e58" stroke-width="3.6"/>
<text x="1909.57" y="137.7" textLength="114.25" lengthAdjust="spacingAndGlyphs" style="font-family:'Liberation Sans',sans-serif;font-weight:bold;font-size:25.3px" fill="#173e64" >With DPD</text>
<text x="1268.15" y="17.3" textLength="41.45" lengthAdjust="spacingAndGlyphs" style="font-family:'Liberation Sans',sans-serif;font-weight:bold;font-size:25.3px" fill="#173e64" >–80</text>
<text x="1254.15" y="140.5" textLength="55.46" lengthAdjust="spacingAndGlyphs" style="font-family:'Liberation Sans',sans-serif;font-weight:bold;font-size:25.3px" fill="#173e64" >–100</text>
<text x="1254.15" y="257.6" textLength="55.46" lengthAdjust="spacingAndGlyphs" style="font-family:'Liberation Sans',sans-serif;font-weight:bold;font-size:25.3px" fill="#173e64" >–120</text>
<text x="1254.15" y="378.4" textLength="55.46" lengthAdjust="spacingAndGlyphs" style="font-family:'Liberation Sans',sans-serif;font-weight:bold;font-size:25.3px" fill="#173e64" >–140</text>
<text x="1254.15" y="501.5" textLength="55.46" lengthAdjust="spacingAndGlyphs" style="font-family:'Liberation Sans',sans-serif;font-weight:bold;font-size:25.3px" fill="#173e64" >–160</text>
<text x="1254.15" y="617.6" textLength="55.46" lengthAdjust="spacingAndGlyphs" style="font-family:'Liberation Sans',sans-serif;font-weight:bold;font-size:25.3px" fill="#173e64" >–180</text>
<text x="1314.70" y="638.3" textLength="15.62" lengthAdjust="spacingAndGlyphs" style="font-family:'Liberation Sans',sans-serif;font-weight:bold;font-size:25.3px" fill="#173e64" >0</text>
<text x="1495.00" y="638.3" textLength="35.70" lengthAdjust="spacingAndGlyphs" style="font-family:'Liberation Sans',sans-serif;font-weight:bold;font-size:25.3px" fill="#173e64" >0.5</text>
<text x="1680.40" y="638.3" textLength="35.94" lengthAdjust="spacingAndGlyphs" style="font-family:'Liberation Sans',sans-serif;font-weight:bold;font-size:25.3px" fill="#173e64" >1.0</text>
<text x="1869.45" y="638.3" textLength="34.83" lengthAdjust="spacingAndGlyphs" style="font-family:'Liberation Sans',sans-serif;font-weight:bold;font-size:25.3px" fill="#173e64" >1.5</text>
<text x="2061.93" y="638.3" textLength="35.60" lengthAdjust="spacingAndGlyphs" style="font-family:'Liberation Sans',sans-serif;font-weight:bold;font-size:25.3px" fill="#173e64" >2.0</text>
<text x="1460.65" y="683.9" textLength="483.48" lengthAdjust="spacingAndGlyphs" style="font-family:'Liberation Sans',sans-serif;font-weight:bold;font-size:25.3px" fill="#173e64" >Normalized Frequency (Band of Interest)</text>
<text x="-386.86" y="0" textLength="160.39" lengthAdjust="spacingAndGlyphs" transform="translate(1244,0) rotate(-90)" style="font-family:'Liberation Sans',sans-serif;font-weight:bold;font-size:25.3px" fill="#173e64" >PSD (dBc/Hz)</text>
<rect x="1897" y="659" width="190" height="30" fill="#ffffff" fill-opacity="0.28"/>
<text x="1914.50" y="679.7" textLength="163.70" lengthAdjust="spacingAndGlyphs" style="font-family:'Liberation Sans',sans-serif;font-size:20.6px" fill="#9fbf99" fill-opacity="0.5">www.cntronics.com</text>
</svg></body></html>
